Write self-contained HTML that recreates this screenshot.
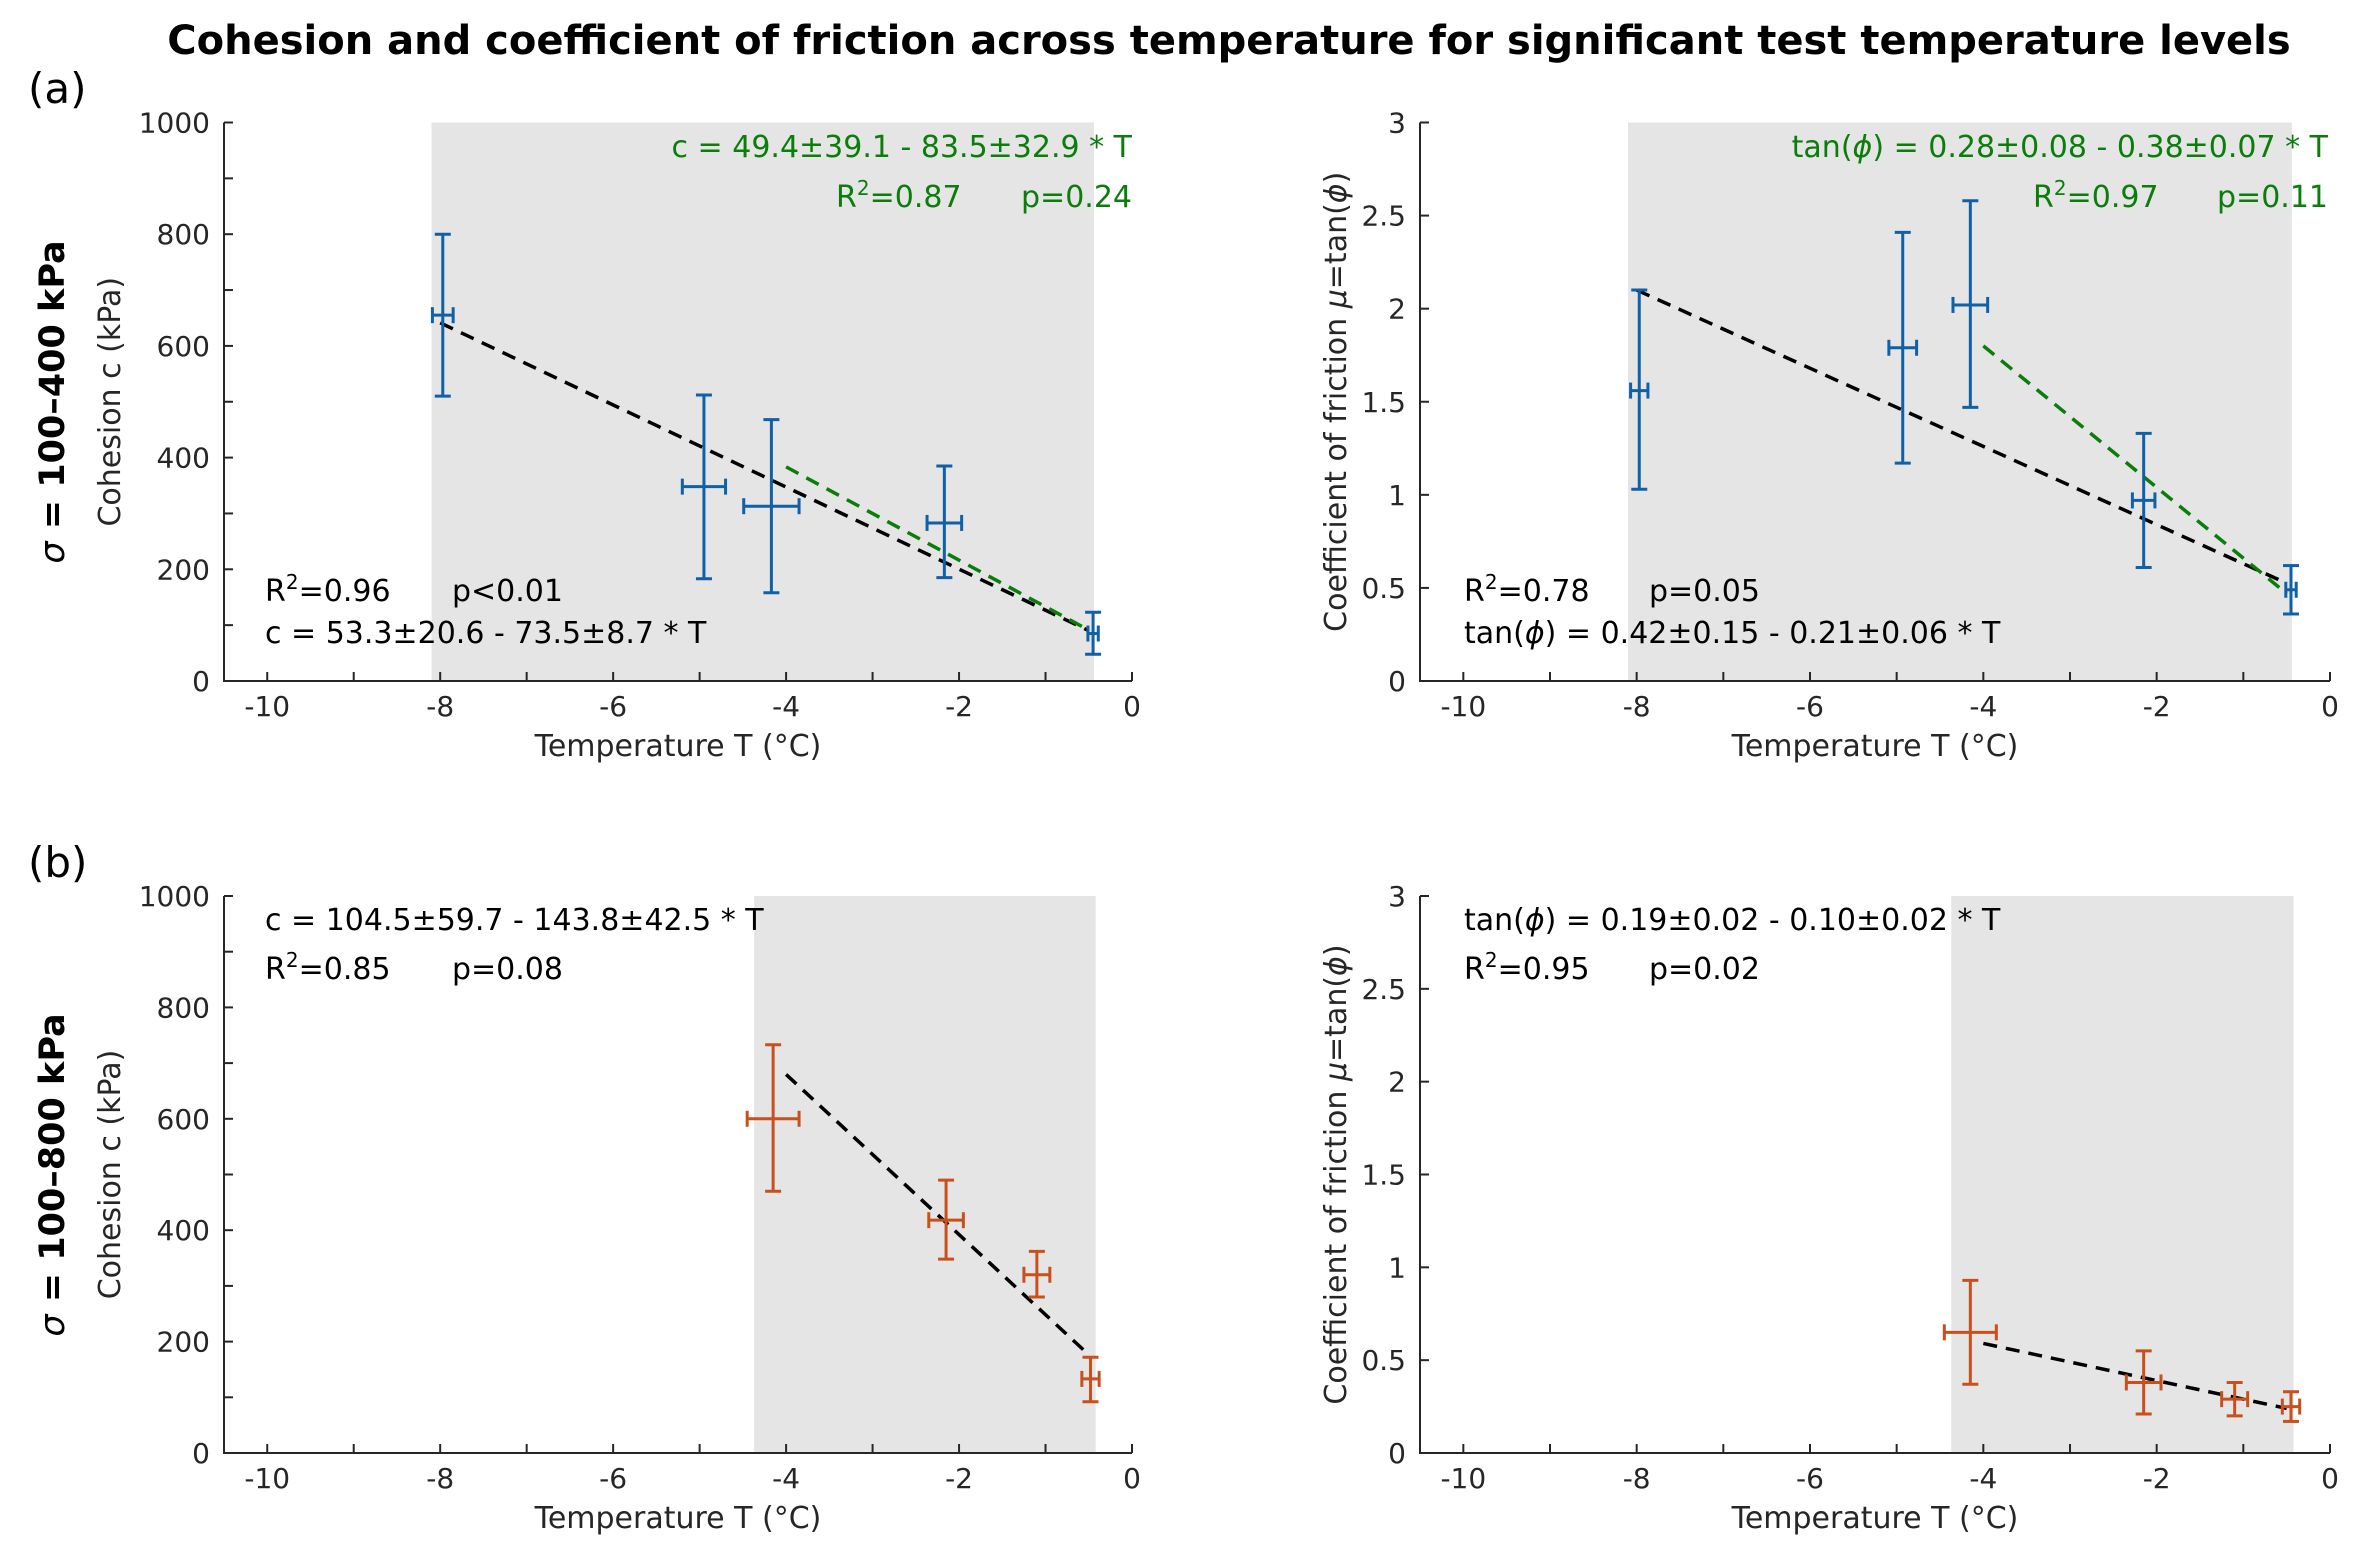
<!DOCTYPE html>
<html><head><meta charset="utf-8"><style>
html,body{margin:0;padding:0;background:#fff;}
svg{display:block;}
text{font-family:"DejaVu Sans","Liberation Sans",sans-serif;}
.t{font-size:28px;fill:#262626;}
.lab{font-family:"DejaVu Sans","Liberation Sans",sans-serif;font-size:30px;fill:#262626;}
</style></head><body>
<svg id="fig" width="2362" height="1564" viewBox="0 0 2362 1564" xmlns="http://www.w3.org/2000/svg">
<text x="1229" y="54" text-anchor="middle" style="font-family:'DejaVu Sans',sans-serif;font-weight:bold;font-size:40px">Cohesion and coefficient of friction across temperature for significant test temperature levels</text>
<text x="28" y="103" style="font-family:'DejaVu Sans',sans-serif;font-size:42px">(a)</text>
<text x="28" y="877" style="font-family:'DejaVu Sans',sans-serif;font-size:42px">(b)</text>
<text transform="translate(64,402) rotate(-90)" text-anchor="middle" style="font-family:'DejaVu Sans',sans-serif;font-weight:bold;font-size:35px"><tspan font-style="italic" font-weight="normal">σ</tspan> = 100–400 kPa</text>
<text transform="translate(64,1175) rotate(-90)" text-anchor="middle" style="font-family:'DejaVu Sans',sans-serif;font-weight:bold;font-size:35px"><tspan font-style="italic" font-weight="normal">σ</tspan> = 100–800 kPa</text>
</svg>
<script>
// ---- data ----
const xTickLabels = ["-10","-8","-6","-4","-2","0"];
const cohTickLabels = ["0","200","400","600","800","1000"];
const muTickLabels = ["0","0.5","1","1.5","2","2.5","3"];

const aCohT = [-7.97,-4.95,-4.17,-2.17,-0.45];
const aCohV = [655,348,313,283,85];
const aCohLo = [510,183,158,185,48];
const aCohHi = [800,512,468,385,123];
const aCohTerr = [0.12,0.25,0.32,0.2,0.06];

const aMuT = [-7.97,-4.93,-4.15,-2.15,-0.45];
const aMuV = [1.56,1.79,2.02,0.97,0.49];
const aMuLo = [1.03,1.17,1.47,0.61,0.36];
const aMuHi = [2.10,2.41,2.58,1.33,0.62];
const aMuTerr = [0.1,0.16,0.2,0.13,0.06];

const bCohT = [-4.15,-2.15,-1.1,-0.48];
const bCohV = [600,418,320,133];
const bCohLo = [470,348,280,92];
const bCohHi = [733,490,362,172];
const bCohTerr = [0.3,0.2,0.15,0.1];

const bMuT = [-4.15,-2.15,-1.1,-0.45];
const bMuV = [0.65,0.38,0.29,0.25];
const bMuLo = [0.37,0.21,0.20,0.17];
const bMuHi = [0.93,0.55,0.38,0.33];
const bMuTerr = [0.3,0.2,0.15,0.1];

// fits: [intercept, slope, Tstart, Tend]
const aCohFitBlack = [53.3,-73.5,-8.0,-0.5];
const aCohFitGreen = [49.4,-83.5,-4.0,-0.5];
const aMuFitBlack = [0.42,-0.21,-8.0,-0.5];
const aMuFitGreen = [0.28,-0.38,-4.0,-0.5];
const bCohFit = [104.5,-143.8,-4.0,-0.5];
const bMuFit = [0.19,-0.10,-4.0,-0.5];

const shadeA = [-8.1,-0.44];
const shadeB = [-4.37,-0.42];

const NS="http://www.w3.org/2000/svg";
const svg=document.getElementById('fig');
function mk(tag,attrs,parent){const e=document.createElementNS(NS,tag);for(const k in attrs)e.setAttribute(k,attrs[k]);(parent||svg).appendChild(e);return e;}

function panel(o){
  const g=mk('g',{});
  
  
  const X=t=>o.x0+(t+10.5)/10.5*(o.x1-o.x0);
  const Y=v=>o.y1-v/o.ymax*(o.y1-o.y0);
  const sh=mk('rect',{x:X(o.shade[0]),y:o.y0,width:X(o.shade[1])-X(o.shade[0]),height:o.y1-o.y0,fill:'#e5e5e5'},g);
  
  
  const ax=mk('path',{d:`M${o.x0},${o.y0}V${o.y1}H${o.x1}`,stroke:'#262626','stroke-width':2,fill:'none'},g);
  
  
  for(let t=-10;t<=0;t++){mk('line',{x1:X(t),x2:X(t),y1:o.y1,y2:o.y1-9,stroke:'#262626','stroke-width':2},g);}
  xTickLabels.forEach((l,i)=>{const t=-10+2*i;const e=mk('text',{x:X(t),y:o.y1+35,'text-anchor':'middle',class:'t'},g);e.textContent=l;
    
    });
  for(let v=0;v<=o.ymax+1e-9;v+=o.minor){mk('line',{x1:o.x0,x2:o.x0+9,y1:Y(v),y2:Y(v),stroke:'#262626','stroke-width':2},g);}
  o.ylabs.forEach((l,i)=>{const v=i*o.ystep;const e=mk('text',{x:o.x0-14,y:Y(v)+10,'text-anchor':'end',class:'t'},g);e.textContent=l;
    
    });
  const xl=mk('text',{x:(o.x0+o.x1)/2,y:o.y1+75,'text-anchor':'middle',class:'lab'},g);xl.textContent='Temperature T (°C)';
  
  
  const yl=mk('text',{transform:`translate(${o.ylx},${(o.y0+o.y1)/2}) rotate(-90)`,'text-anchor':'middle',class:'lab'},g);yl.innerHTML=o.ytitle;
  
  
  o.fits.forEach(f=>{const d=f[0];
    const l=mk('line',{x1:X(d[2]),y1:Y(d[0]+d[1]*d[2]),x2:X(d[3]),y2:Y(d[0]+d[1]*d[3]),stroke:f[1],'stroke-width':3.5,'stroke-dasharray':'14 9'},g);
    
    });
  o.T.forEach((t,i)=>{const c=o.col;const eg=mk('g',{stroke:c,'stroke-width':3,fill:'none'},g);
    
    
    const x=X(t),y=Y(o.V[i]);
    mk('line',{x1:x,x2:x,y1:Y(o.Lo[i]),y2:Y(o.Hi[i])},eg);
    mk('line',{x1:x-8,x2:x+8,y1:Y(o.Lo[i]),y2:Y(o.Lo[i])},eg);
    mk('line',{x1:x-8,x2:x+8,y1:Y(o.Hi[i]),y2:Y(o.Hi[i])},eg);
    const xa=X(t-o.Te[i]),xb=X(t+o.Te[i]);
    mk('line',{x1:xa,x2:xb,y1:y,y2:y},eg);
    mk('line',{x1:xa,x2:xa,y1:y-8,y2:y+8},eg);
    mk('line',{x1:xb,x2:xb,y1:y-8,y2:y+8},eg);
  });
  o.texts.forEach(tx=>{const e=mk('text',{x:tx[0],y:tx[1],'text-anchor':tx[3]||'start',class:'t',style:'font-size:30px;fill:'+(tx[4]||'#000')},g);e.innerHTML=tx[2];
    
    });
}
const R2='R<tspan dy="-12" font-size="20">2</tspan><tspan dy="12">=</tspan>';
const phi='<tspan font-style="italic">ϕ</tspan>';
const GR='#0a7d0a';
const blue='#1060a8', orange='#c8501c';
const muTitle='Coefficient of friction <tspan font-style="italic">μ</tspan>=tan(<tspan font-style="italic">ϕ</tspan>)';
panel({name:'panel-a-cohesion',x0:224,x1:1132,y0:122.5,y1:681,ymax:1000,minor:100,ystep:200,ylabs:cohTickLabels,ylx:120,ytitle:'Cohesion c (kPa)',shade:shadeA,
  T:aCohT,V:aCohV,Lo:aCohLo,Hi:aCohHi,Te:aCohTerr,col:blue,fits:[[aCohFitBlack,'#000'],[aCohFitGreen,GR]],
  texts:[[1132,157,'c = 49.4±39.1 - 83.5±32.9 * T','end',GR],[836,207,R2+'0.87','start',GR],[1132,207,'p=0.24','end',GR],
    [265,601,R2+'0.96'],[452,601,'p&lt;0.01'],[265,643,'c = 53.3±20.6 - 73.5±8.7 * T']]});
panel({name:'panel-a-friction',x0:1420,x1:2330,y0:122.5,y1:681,ymax:3,minor:0.5,ystep:0.5,ylabs:muTickLabels,ylx:1346,ytitle:muTitle,shade:shadeA,
  T:aMuT,V:aMuV,Lo:aMuLo,Hi:aMuHi,Te:aMuTerr,col:blue,fits:[[aMuFitBlack,'#000'],[aMuFitGreen,GR]],
  texts:[[2328,157,'tan('+phi+') = 0.28±0.08 - 0.38±0.07 * T','end',GR],[2033,207,R2+'0.97','start',GR],[2328,207,'p=0.11','end',GR],
    [1464,601,R2+'0.78'],[1649,601,'p=0.05'],[1464,643,'tan('+phi+') = 0.42±0.15 - 0.21±0.06 * T']]});
panel({name:'panel-b-cohesion',x0:224,x1:1132,y0:896,y1:1453,ymax:1000,minor:100,ystep:200,ylabs:cohTickLabels,ylx:120,ytitle:'Cohesion c (kPa)',shade:shadeB,
  T:bCohT,V:bCohV,Lo:bCohLo,Hi:bCohHi,Te:bCohTerr,col:orange,fits:[[bCohFit,'#000']],
  texts:[[265,930,'c = 104.5±59.7 - 143.8±42.5 * T'],[265,979,R2+'0.85'],[452,979,'p=0.08']]});
panel({name:'panel-b-friction',x0:1420,x1:2330,y0:896,y1:1453,ymax:3,minor:0.5,ystep:0.5,ylabs:muTickLabels,ylx:1346,ytitle:muTitle,shade:shadeB,
  T:bMuT,V:bMuV,Lo:bMuLo,Hi:bMuHi,Te:bMuTerr,col:orange,fits:[[bMuFit,'#000']],
  texts:[[1464,930,'tan('+phi+') = 0.19±0.02 - 0.10±0.02 * T'],[1464,979,R2+'0.95'],[1649,979,'p=0.02']]});
</script>
</body></html>
